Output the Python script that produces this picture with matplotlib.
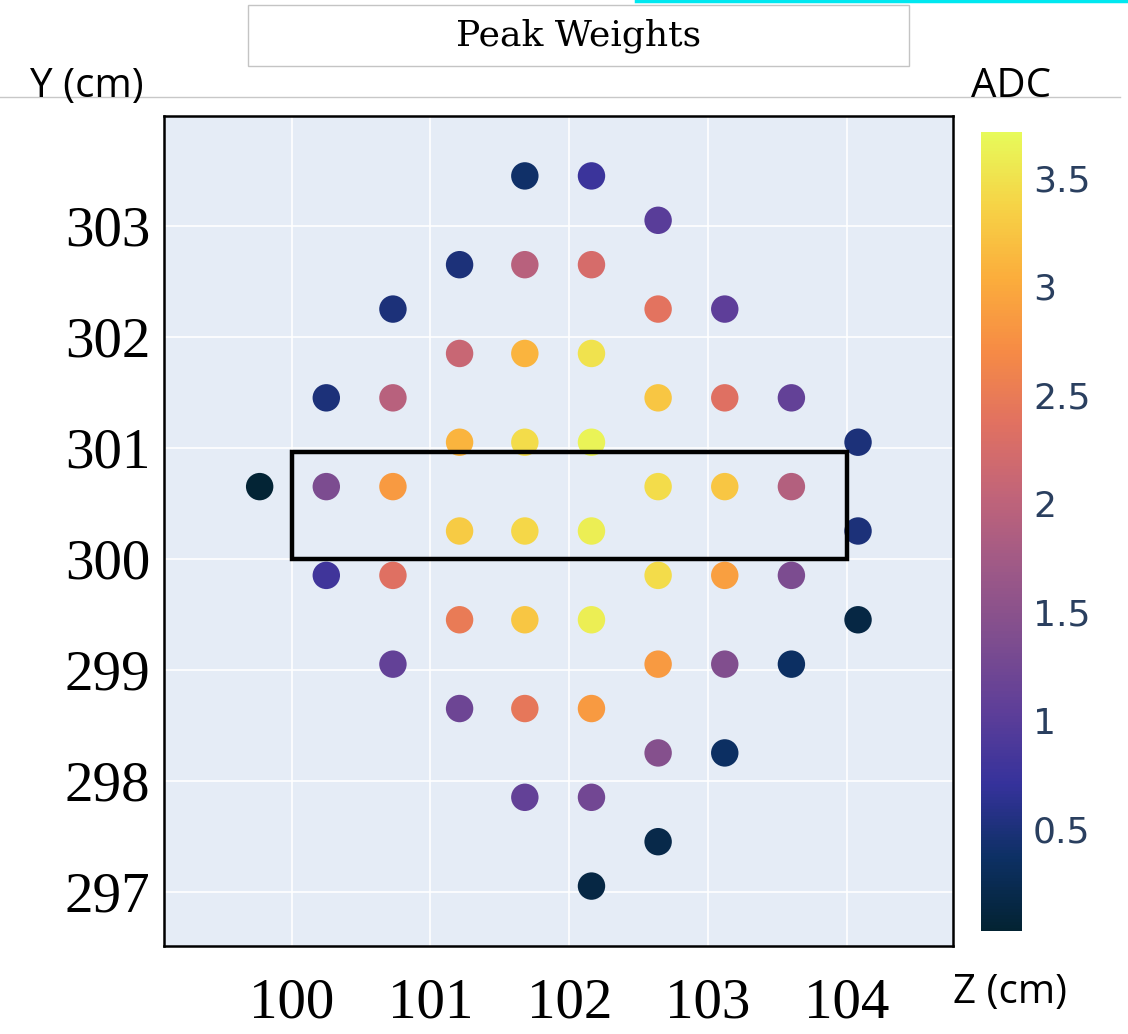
import numpy as np
import matplotlib
matplotlib.use("Agg")
import matplotlib.pyplot as plt
from matplotlib.colors import LinearSegmentedColormap, Normalize
from matplotlib.patches import Rectangle
from matplotlib.cm import ScalarMappable

# wire positions (Z) and drift positions (Y) of the peaks, with the peak weight in ADC
z = [101.68, 102.16,
     102.64,
     101.21, 101.68, 102.16,
     100.73, 102.64, 103.12,
     101.21, 101.68, 102.16,
     100.25, 100.73, 102.64, 103.12, 103.60,
     101.21, 101.68, 102.16, 104.08,
     99.77, 100.25, 100.73, 102.64, 103.12, 103.60,
     101.21, 101.68, 102.16, 104.08,
     100.25, 100.73, 102.64, 103.12, 103.60,
     101.21, 101.68, 102.16, 104.08,
     100.73, 102.64, 103.12, 103.60,
     101.21, 101.68, 102.16,
     102.64, 103.12,
     101.68, 102.16,
     102.64,
     102.16]
y = [303.45, 303.45,
     303.05,
     302.65, 302.65, 302.65,
     302.25, 302.25, 302.25,
     301.85, 301.85, 301.85,
     301.45, 301.45, 301.45, 301.45, 301.45,
     301.05, 301.05, 301.05, 301.05,
     300.65, 300.65, 300.65, 300.65, 300.65, 300.65,
     300.25, 300.25, 300.25, 300.25,
     299.85, 299.85, 299.85, 299.85, 299.85,
     299.45, 299.45, 299.45, 299.45,
     299.05, 299.05, 299.05, 299.05,
     298.65, 298.65, 298.65,
     298.25, 298.25,
     297.85, 297.85,
     297.45,
     297.05]
adc = [0.40, 0.75,
       1.00,
       0.50, 1.95, 2.25,
       0.50, 2.40, 1.05,
       2.10, 3.10, 3.50,
       0.50, 1.95, 3.25, 2.35, 1.10,
       3.10, 3.45, 3.65, 0.50,
       0.05, 1.35, 2.85, 3.45, 3.25, 1.90,
       3.30, 3.40, 3.60, 0.50,
       0.80, 2.35, 3.45, 2.90, 1.35,
       2.50, 3.25, 3.60, 0.15,
       1.10, 2.85, 1.40, 0.35,
       1.20, 2.45, 2.85,
       1.45, 0.35,
       1.10, 1.25,
       0.20,
       0.15]

z_ticks = [100, 101, 102, 103, 104]
y_ticks = [297, 298, 299, 300, 301, 302, 303]
cbar_ticks = [0.5, 1, 1.5, 2, 2.5, 3, 3.5]
cbar_labels = ["0.5", "1", "1.5", "2", "2.5", "3", "3.5"]

# plotly "Thermal" (cmocean)
thermal_rgb = [(3, 35, 51), (13, 48, 100), (53, 50, 155), (93, 62, 153),
               (126, 77, 143), (158, 89, 135), (193, 100, 121), (225, 113, 97),
               (246, 139, 69), (251, 173, 60), (246, 211, 70), (231, 250, 90)]
thermal = LinearSegmentedColormap.from_list("thermal", [tuple(c / 255 for c in rgb) for rgb in thermal_rgb])
norm = Normalize(vmin=0.03, vmax=3.71)

W, H = 1128, 1034
fig = plt.figure(figsize=(W / 100, H / 100), dpi=100)
fig.patch.set_facecolor("white")

ax = fig.add_axes([164 / W, 1 - 946 / H, (953 - 164) / W, (946 - 116) / H])
ax.set_facecolor("#E5ECF6")
ax.scatter(z, y, c=adc, cmap=thermal, norm=norm, s=390, linewidths=0, zorder=3)
ax.set_xlim(99.081, 104.764)
ax.set_ylim(296.51, 303.99)
ax.set_xticks(z_ticks)
ax.set_yticks(y_ticks)
ax.set_xticklabels([str(t) for t in z_ticks], fontfamily="Liberation Serif", fontsize=41)
ax.set_yticklabels([str(t) for t in y_ticks], fontfamily="Liberation Serif", fontsize=41)
ax.tick_params(axis="x", length=0, pad=23)
ax.tick_params(axis="y", length=0, pad=10)
ax.grid(True, color="white", linewidth=1.2, zorder=0)
ax.set_axisbelow(True)
for sp in ax.spines.values():
    sp.set_color("black")
    sp.set_linewidth(1.8)

# highlighted region
ax.add_patch(Rectangle((100, 300), 4, 0.96, fill=False, edgecolor="black", linewidth=3.2, zorder=4))

# colorbar
cax = fig.add_axes([981 / W, 1 - 931 / H, 41 / W, 799 / H])
cb = fig.colorbar(ScalarMappable(norm=norm, cmap=thermal), cax=cax, ticks=cbar_ticks)
cb.outline.set_visible(False)
cb.ax.set_yticklabels(cbar_labels, fontfamily="DejaVu Sans", fontsize=26, color="#2a3f5f")
cb.ax.tick_params(length=0, pad=8)

# title box
fig.patches.append(Rectangle((248 / W, 1 - 66 / H), (909 - 248) / W, 61 / H, transform=fig.transFigure,
                             fill=False, edgecolor="#c4c4c4", linewidth=1))
fig.text((453 + 705) / 2 / W, 1 - 36 / H, "Peak Weights", ha="center", va="center",
         fontfamily="DejaVu Serif", fontsize=26)

# decorations from the slide
fig.add_artist(plt.Line2D([0, 1120 / W], [1 - 97 / H, 1 - 97 / H], transform=fig.transFigure,
                          color="#c8c8c8", linewidth=1))
fig.add_artist(plt.Line2D([636 / W, 1], [1 - 1 / H, 1 - 1 / H], transform=fig.transFigure,
                          color="#00e8f0", linewidth=2.5))

fig.text(87 / W, 1 - 97 / H, "Y (cm)", ha="center", va="baseline", fontfamily="Open Sans", fontsize=29)
fig.text(1011 / W, 1 - 97 / H, "ADC", ha="center", va="baseline", fontfamily="Open Sans", fontsize=29)
fig.text(1010 / W, 1 - 1003 / H, "Z (cm)", ha="center", va="baseline", fontfamily="Open Sans", fontsize=29)

fig.savefig("out.png", dpi=100)
